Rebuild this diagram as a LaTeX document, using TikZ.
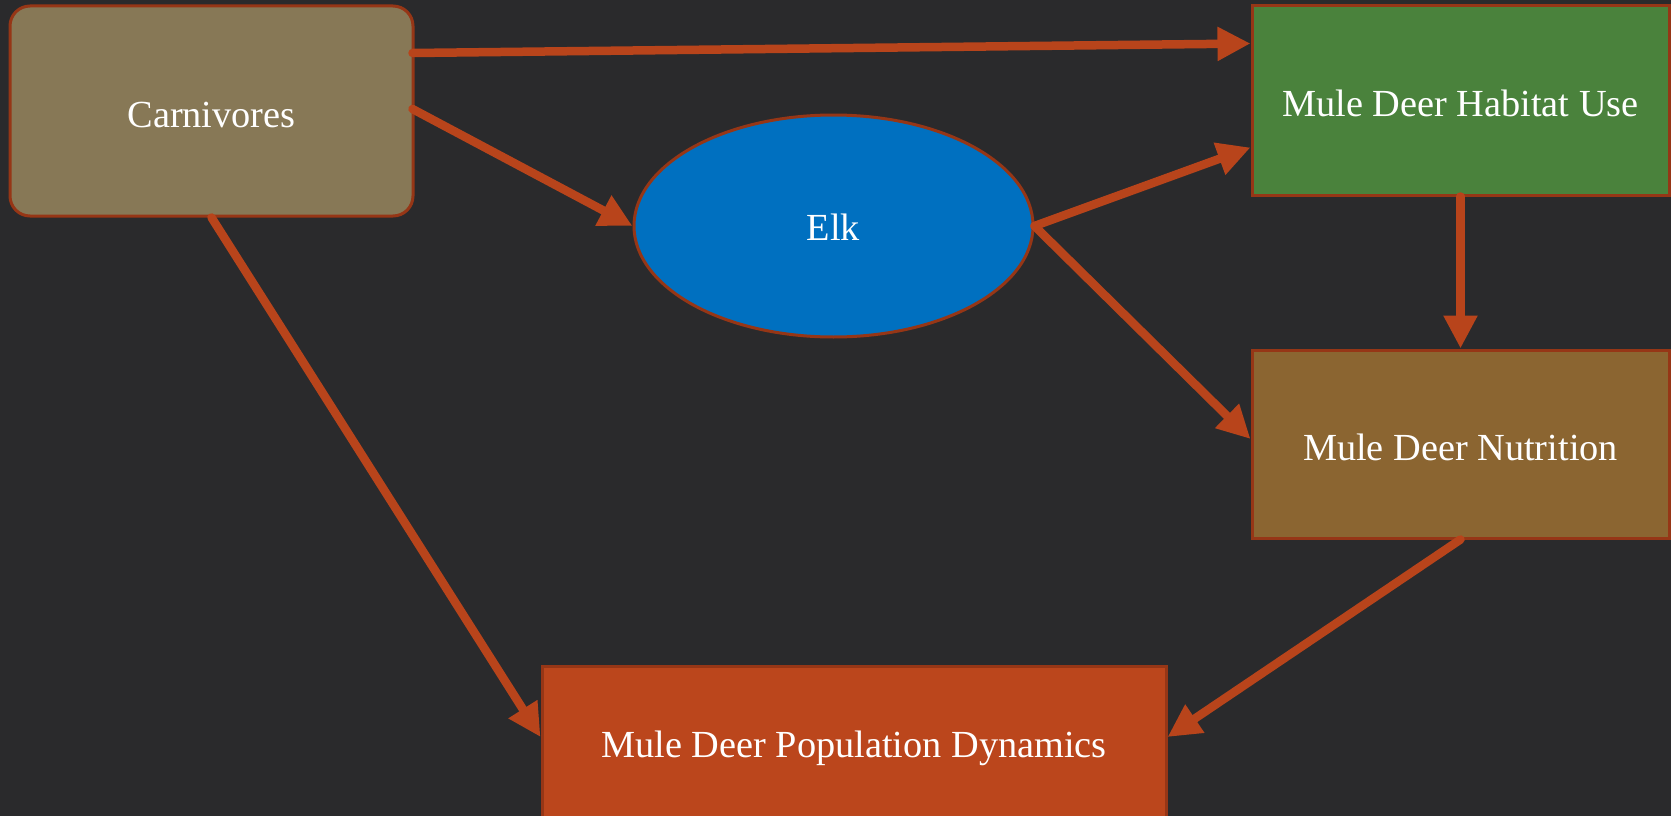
\documentclass[tikz,border=0pt]{standalone}
\usepackage{fontspec}
\setmainfont{Liberation Serif}
\usetikzlibrary{arrows.meta,shapes.geometric}
\definecolor{bg}{HTML}{2A2A2C}
\definecolor{edgec}{HTML}{963616}
\definecolor{arrowc}{HTML}{B8441B}
\definecolor{carnc}{HTML}{877856}
\definecolor{elkc}{HTML}{0070C0}
\definecolor{habc}{HTML}{4A823C}
\definecolor{nutc}{HTML}{8B6531}
\definecolor{popc}{HTML}{BB461C}
\tikzset{
  every node/.style={text=white, font=\fontsize{38.3}{45}\selectfont, inner sep=0pt, text height=32pt, text depth=0pt},
  boxnode/.style={draw=edgec, line width=3pt, rectangle},
  link/.style={draw=arrowc, line width=8.5pt, line cap=round, -{Triangle[length=33pt,width=32pt]}}
}
\begin{document}
\begin{tikzpicture}[x=1pt,y=-1pt]
\fill[bg] (0,0) rectangle (1671,816);
\useasboundingbox (0,0) rectangle (1671,816);
\node[boxnode, fill=carnc, rounded corners=20pt, minimum width=403pt, minimum height=210pt] (carn) at (211.5,111) {Carnivores};
\node[draw=edgec, line width=3pt, ellipse, fill=elkc, minimum width=399pt, minimum height=222pt, text height=28pt] (elk) at (833.5,226) {Elk};
\node[boxnode, fill=habc, minimum width=417pt, minimum height=189pt] (hab) at (1460.5,100.5) {Mule Deer Habitat Use};
\node[boxnode, fill=nutc, minimum width=417pt, minimum height=188pt] (nut) at (1460.5,444) {Mule Deer Nutrition};
\node[boxnode, fill=popc, minimum width=624pt, minimum height=154pt, text height=28pt] (pop) at (854,743) {Mule Deer Population Dynamics};
\draw[link] ([yshift=58pt,xshift=-2pt]carn.east) -- ([yshift=57pt]hab.west);
\draw[link] ([xshift=-2pt,yshift=2pt]carn.east) -- (elk.west);
\draw[link] (carn.south) -- ([yshift=6pt]pop.west);
\draw[link] (elk.east) -- ([yshift=-47pt]hab.west);
\draw[link] (elk.east) -- ([yshift=5pt]nut.west);
\draw[link] (hab.south) -- (nut.north);
\draw[link] (nut.south) -- ([yshift=6pt]pop.east);
\end{tikzpicture}
\end{document}
